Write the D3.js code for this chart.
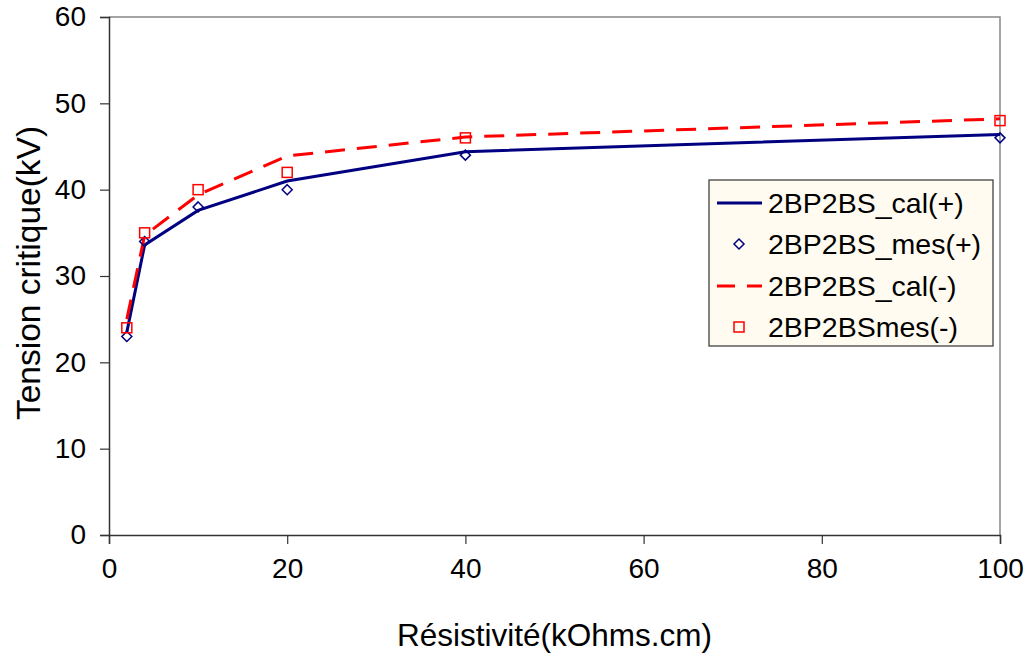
<!DOCTYPE html>
<html><head><meta charset="utf-8">
<script src="https://cdn.jsdelivr.net/npm/d3@7"></script>
<style>body{margin:0;background:#fff;}svg{display:block;font-family:"Liberation Sans",Arial,sans-serif;}</style>
</head><body>
<svg id="chart" width="1031" height="657"></svg>
<script>
const xCal = [2, 4, 10, 20, 40, 100];
const calPlus = [23.5, 33.6, 37.6, 41.0, 44.4, 46.4];
const mesPlus = [23, 34, 38, 40, 44, 46];
const calMinus = [25.0, 34.7, 39.4, 43.9, 46.1, 48.2];
const mesMinus = [24, 35, 40, 42, 46, 48];
const xTicks = [0, 20, 40, 60, 80, 100];
const yTicks = [0, 10, 20, 30, 40, 50, 60];
const seriesNames = ["2BP2BS_cal(+)", "2BP2BS_mes(+)", "2BP2BS_cal(-)", "2BP2BSmes(-)"];

const svg = d3.select("#chart");
const L = 109, R = 1000, T = 17, B = 535;
const x = d3.scaleLinear().domain([0, 100]).range([L, R]);
const y = d3.scaleLinear().domain([0, 60]).range([B, T]);

// frame (top/right)
svg.append("path").attr("d", `M${L},${T}H${R}V${B}`).attr("fill", "none").attr("stroke", "#888").attr("stroke-width", 1.5);

const xa = svg.append("g").attr("transform", `translate(0,${B})`)
  .call(d3.axisBottom(x).tickValues(xTicks).tickSizeOuter(0).tickSize(9).tickPadding(14).tickFormat(d3.format("d")));
const ya = svg.append("g").attr("transform", `translate(${L},0)`)
  .call(d3.axisLeft(y).tickValues(yTicks).tickSizeOuter(0).tickSize(9).tickPadding(14).tickFormat(d3.format("d")));
[xa, ya].forEach(a => {
  a.select(".domain").attr("stroke", "#333").attr("stroke-width", 1.5);
  a.selectAll(".tick line").attr("stroke", "#333").attr("stroke-width", 1.2);
  a.selectAll(".tick text").attr("font-size", 28).attr("fill", "#000").attr("font-family", "Liberation Sans, Arial, sans-serif");
});

svg.append("text").attr("x", (L + R) / 2).attr("y", 646).attr("text-anchor", "middle")
  .attr("font-size", 31.5).text("Résistivité(kOhms.cm)");
svg.append("text").attr("transform", `translate(40,273) rotate(-90)`).attr("text-anchor", "middle")
  .attr("font-size", 33.5).text("Tension critique(kV)");

const line = d3.line().x(d => x(d[0])).y(d => y(d[1]));
svg.append("path").datum(xCal.map((v, i) => [v, calPlus[i]])).attr("d", line)
  .attr("fill", "none").attr("stroke", "#000080").attr("stroke-width", 3);
svg.append("path").datum(xCal.map((v, i) => [v, calMinus[i]])).attr("d", line)
  .attr("fill", "none").attr("stroke", "#ff0000").attr("stroke-width", 3).attr("stroke-dasharray", "20,12");

const diamond = (cx, cy, r) => `M${cx},${cy - r}L${cx + r},${cy}L${cx},${cy + r}L${cx - r},${cy}Z`;
svg.append("g").selectAll("path").data(xCal.map((v, i) => [v, mesPlus[i]])).join("path")
  .attr("d", d => diamond(x(d[0]), y(d[1]), 5)).attr("fill", "none").attr("stroke", "#000080").attr("stroke-width", 1.5);
svg.append("g").selectAll("rect").data(xCal.map((v, i) => [v, mesMinus[i]])).join("rect")
  .attr("x", d => x(d[0]) - 5).attr("y", d => y(d[1]) - 5).attr("width", 10).attr("height", 10)
  .attr("fill", "none").attr("stroke", "#ff0000").attr("stroke-width", 1.5);

// legend
const lg = svg.append("g");
lg.append("rect").attr("x", 709).attr("y", 180).attr("width", 284).attr("height", 166)
  .attr("fill", "#fffbf0").attr("stroke", "#333").attr("stroke-width", 1.2);
const rowY = [203, 244, 286, 327];
seriesNames.forEach((name, i) => {
  const yy = rowY[i];
  if (i === 0) lg.append("line").attr("x1", 717).attr("x2", 762).attr("y1", yy).attr("y2", yy).attr("stroke", "#000080").attr("stroke-width", 3);
  if (i === 1) lg.append("path").attr("d", diamond(739, yy, 5)).attr("fill", "none").attr("stroke", "#000080").attr("stroke-width", 1.5);
  if (i === 2) lg.append("line").attr("x1", 717).attr("x2", 762).attr("y1", yy).attr("y2", yy).attr("stroke", "#ff0000").attr("stroke-width", 3).attr("stroke-dasharray", "18,12");
  if (i === 3) lg.append("rect").attr("x", 734).attr("y", yy - 5).attr("width", 10).attr("height", 10).attr("fill", "none").attr("stroke", "#ff0000").attr("stroke-width", 1.5);
  lg.append("text").attr("x", 768).attr("y", yy).attr("dy", "0.35em").attr("font-size", 28.5).text(name);
});
</script>
</body></html>
